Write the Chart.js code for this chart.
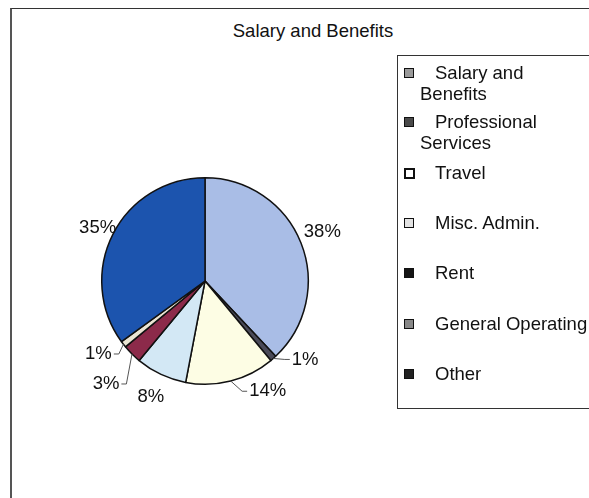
<!DOCTYPE html>
<html>
<head>
<meta charset="utf-8">
<script src="https://cdn.jsdelivr.net/npm/chart.js@4/dist/chart.umd.min.js"></script>
<style>
  html, body { margin:0; padding:0; background:#fff; }
  body { width:589px; height:498px; position:relative; overflow:hidden; font-family:"Liberation Sans", Arial, sans-serif; color:#111; }
  #frame { position:absolute; left:10px; top:8px; width:600px; height:500px; border-top:1.5px solid #333; border-left:2px solid #555; }
  #title { position:absolute; left:0; width:626px; top:20px; text-align:center; font-size:18.5px; line-height:22px; }
  #c { position:absolute; left:0; top:0; }
  #legend { position:absolute; left:397px; top:55px; width:220px; height:352px; border:1px solid #333; }
  .item { position:absolute; left:22px; font-size:18.5px; line-height:21px; white-space:nowrap; }
  .item .txt { display:inline-block; text-indent:15px; }
  .mk { position:absolute; left:-16px; top:6px; width:8px; height:8px; border:1px solid #111; }
</style>
</head>
<body>
<div id="frame"></div>
<div id="title">Salary and Benefits</div>
<canvas id="c" width="589" height="498"></canvas>
<div id="legend"></div>
<script>
// ---- data ----
const categories = ["Salary and Benefits", "Professional Services", "Travel", "Misc. Admin.", "Rent", "General Operating", "Other"];
const legendLines = [["Salary and", "Benefits"], ["Professional", "Services"], ["Travel"], ["Misc. Admin."], ["Rent"], ["General Operating"], ["Other"]];
const values = [38, 1, 14, 8, 3, 1, 35];
const valueLabels = ["38%", "1%", "14%", "8%", "3%", "1%", "35%"];

// ---- styles ----
const sliceColors = ["#a9bde6", "#4a4a58", "#fdfde4", "#d3e8f5", "#8c2a4a", "#ebe5d3", "#1c54ae"];
const legendMarkers = ["#9a9a9a", "#4a4a4a", "#ffffff", "#e2e2e2", "#151515", "#888888", "#222222"];
const legendCenters = [72, 121, 172, 222, 272, 323, 373];
const labelNudge = [[-1,-2],[16,-17],[31,-13],[0,1],[-9,13],[-6,-5],[6,5]];
const labelLeader = [false, true, true, false, true, true, false];

// legend (HTML text)
const lg = document.getElementById('legend');
legendLines.forEach((lines, i) => {
  const d = document.createElement('div');
  d.className = 'item';
  d.style.top = (legendCenters[i] - 55 - 1 - 10.5) + 'px';
  const mk = document.createElement('span');
  mk.className = 'mk';
  mk.style.background = legendMarkers[i];
  if (i === 2) { mk.style.border = '2px solid #111'; mk.style.width='7px'; mk.style.height='7px'; }
  d.appendChild(mk);
  const t = document.createElement('span');
  t.className = 'txt';
  t.innerHTML = lines.join('<br>');
  d.appendChild(t);
  lg.appendChild(d);
});

const labelPlugin = {
  id: 'pieLabels',
  afterDatasetsDraw(chart) {
    const ctx = chart.ctx;
    const meta = chart.getDatasetMeta(0);
    ctx.save();
    ctx.font = '18.5px "Liberation Sans", Arial, sans-serif';
    ctx.textAlign = 'center';
    ctx.textBaseline = 'middle';
    meta.data.forEach((arc, i) => {
      const p = arc.getProps(['x','y','startAngle','endAngle','outerRadius'], true);
      const mid = (p.startAngle + p.endAngle) / 2;
      const cx = Math.cos(mid), cy = Math.sin(mid);
      const r = p.outerRadius;
      const lx = p.x + cx * (r + 24) + labelNudge[i][0];
      const ly = p.y + cy * (r + 24) + labelNudge[i][1];
      ctx.fillStyle = '#111';
      ctx.fillText(valueLabels[i], lx, ly);
      if (labelLeader[i]) {
        const w = ctx.measureText(valueLabels[i]).width;
        const side = lx > p.x ? -1 : 1;
        const ex = lx + side * (w / 2 + 2);
        const ax = p.x + cx * r, ay = p.y + cy * r;
        ctx.strokeStyle = '#555';
        ctx.lineWidth = 1;
        ctx.beginPath();
        ctx.moveTo(ax, ay);
        ctx.lineTo(ex + side * 5, ly);
        ctx.lineTo(ex, ly);
        ctx.stroke();
      }
    });
    ctx.restore();
  }
};

new Chart(document.getElementById('c'), {
  type: 'pie',
  data: {
    labels: categories,
    datasets: [{
      data: values,
      backgroundColor: sliceColors,
      borderColor: '#111',
      borderWidth: 1.5
    }]
  },
  options: {
    responsive: false,
    animation: false,
    layout: { padding: { left: 101, right: 280, top: 177, bottom: 113 } },
    plugins: {
      legend: { display: false },
      title: { display: false },
      tooltip: { enabled: false }
    }
  },
  plugins: [labelPlugin]
});
</script>
</body>
</html>
